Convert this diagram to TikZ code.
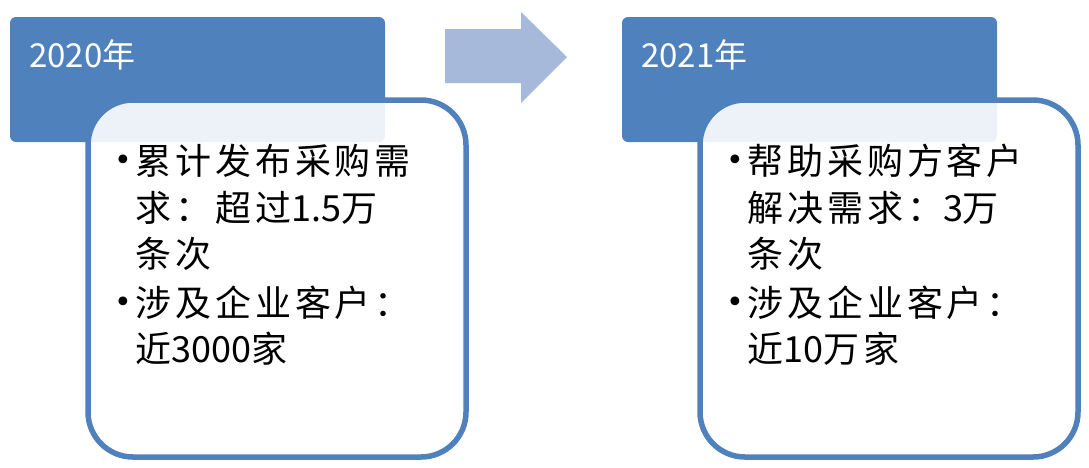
\documentclass[tikz,border=0pt]{standalone}
\usepackage{fontspec}
\newfontfamily\cjk{Noto Sans CJK SC}
\newfontfamily\cjksp[LetterSpace=11]{Noto Sans CJK SC}
\newfontfamily\dvs{DejaVu Sans}
\newcommand{\nd}[1]{{\cjk #1}}
\definecolor{hdrblue}{HTML}{4F81BD}
\definecolor{arrowblue}{HTML}{A7B9DA}
\tikzset{
  hdrbox/.style={fill=hdrblue, draw=none, rounded corners=6pt},
  bodybox/.style={draw=hdrblue, line width=5.5pt, fill=white, fill opacity=0.9, rounded corners=45pt},
  yeartext/.style={anchor=west, text=white, font=\cjk\fontsize{33}{33}\selectfont, inner sep=0pt},
  bodytext/.style={anchor=west, text=black, font=\cjksp\fontsize{36}{36}\selectfont, inner sep=0pt, text height=28pt, text depth=6pt},
  bullettext/.style={anchor=center, text=black, font=\dvs\fontsize{30}{30}\selectfont, inner sep=0pt}
}
\begin{document}
\begin{tikzpicture}[x=1pt,y=-1pt]
\useasboundingbox (0,0) rectangle (1089,467);
% headers
\path[hdrbox] (10,17) rectangle (385,142);
\path[hdrbox] (622,17) rectangle (997,142);
% arrow
\fill[arrowblue] (445,29) -- (521,29) -- (521,12) -- (567,57) -- (521,103) -- (521,83) -- (445,83) -- cycle;
% body boxes
\draw[bodybox] (88,100) rectangle (466,457);
\draw[bodybox] (700,100) rectangle (1078,457);
% year labels
\node[yeartext] (y1) at (29,55) {2020年};
\node[yeartext] (y2) at (641,55) {2021年};
% box 1 text
\node[bullettext] (b1a) at (123,163) {•};
\node[bodytext] (t1a) at (135,163) {累计发布采购需};
\node[bodytext] (t1b) at (135,210) {求：超过\nd{1.5}万};
\node[bodytext] (t1c) at (135,256) {条次};
\node[bullettext] (b1b) at (123,305) {•};
\node[bodytext] (t1d) at (135,305) {涉及企业客户：};
\node[bodytext] (t1e) at (135,351) {近\nd{3000}家};
% box 2 text
\node[bullettext] (b2a) at (735,163) {•};
\node[bodytext] (t2a) at (747,163) {帮助采购方客户};
\node[bodytext] (t2b) at (747,210) {解决需求：\nd{3}万};
\node[bodytext] (t2c) at (747,256) {条次};
\node[bullettext] (b2b) at (735,305) {•};
\node[bodytext] (t2d) at (747,305) {涉及企业客户：};
\node[bodytext] (t2e) at (747,351) {近\nd{10}万家};
\end{tikzpicture}
\end{document}
